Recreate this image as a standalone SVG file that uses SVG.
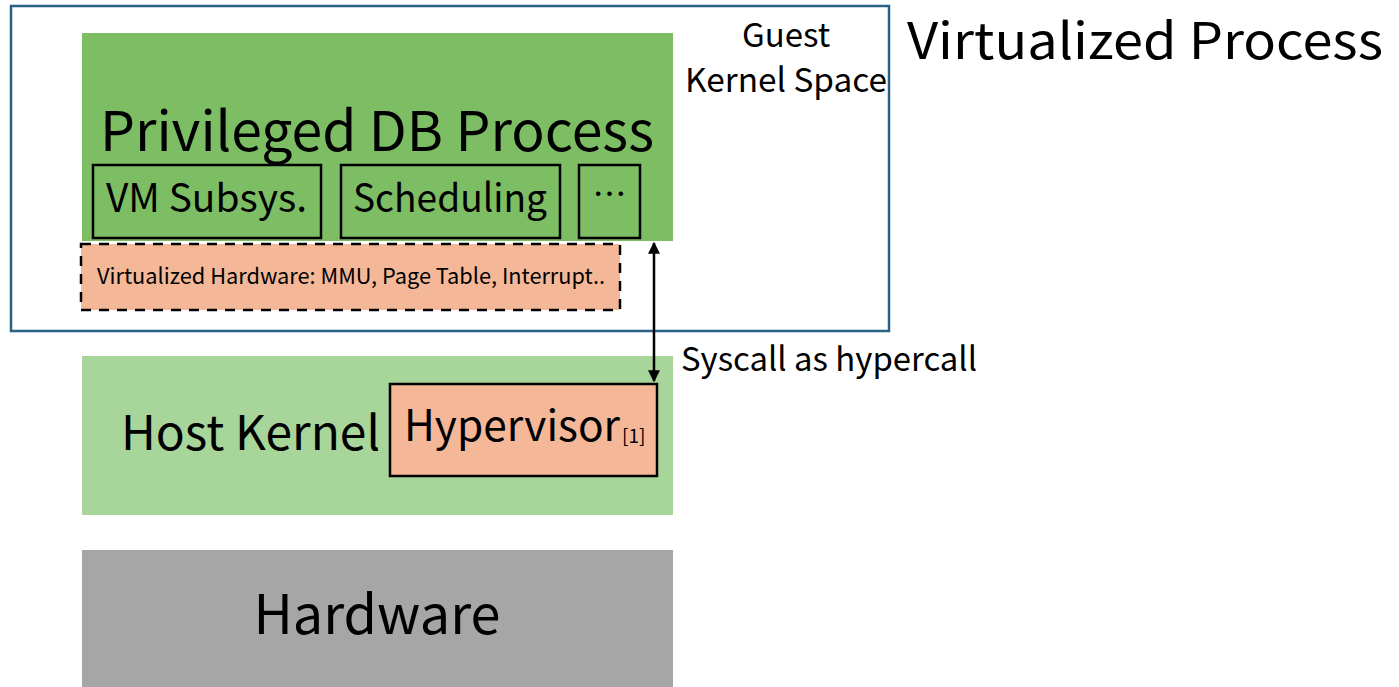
<svg xmlns="http://www.w3.org/2000/svg" width="1399" height="687" viewBox="0 0 1399 687">
<defs>
<marker id="ah" viewBox="0 0 10 10" refX="9" refY="5" markerWidth="14" markerHeight="12" markerUnits="userSpaceOnUse" orient="auto-start-reverse">
<path d="M0,0 L10,5 L0,10 z" fill="#000"/>
</marker>
<style>
text{font-family:"Noto Sans CJK KR","Noto Sans",sans-serif;fill:#000}
.sub{fill:none;stroke:#000;stroke-width:2.5}
</style>
</defs>
<rect width="1399" height="687" fill="#fff"/>
<g id="virtualized-process">
<rect x="11" y="6" width="878" height="325" fill="none" stroke="#2a6286" stroke-width="2.5"/>
<text x="907" y="59" font-size="50" textLength="476" lengthAdjust="spacingAndGlyphs">Virtualized Process</text>
<text x="786" y="47" font-size="33" text-anchor="middle">Guest</text>
<text x="786" y="92" font-size="33" text-anchor="middle" textLength="202" lengthAdjust="spacingAndGlyphs">Kernel Space</text>
</g>
<g id="privileged-db">
<rect x="82" y="33" width="591" height="208" fill="#7dbe65"/>
<text x="100" y="151" font-size="55" textLength="554" lengthAdjust="spacingAndGlyphs">Privileged DB Process</text>
</g>
<g id="vm-subsys">
<rect class="sub" x="93" y="165" width="228" height="73"/>
<text x="106" y="212" font-size="39" textLength="201" lengthAdjust="spacingAndGlyphs">VM Subsys.</text>
</g>
<g id="scheduling">
<rect class="sub" x="341" y="165" width="219" height="73"/>
<text x="353" y="212" font-size="39" textLength="194" lengthAdjust="spacingAndGlyphs">Scheduling</text>
</g>
<g id="etc">
<rect class="sub" x="579" y="165" width="61" height="73"/>
<text x="609.5" y="207" font-size="34" text-anchor="middle">…</text>
</g>
<g id="virt-hw">
<rect x="81" y="244" width="539" height="66" fill="#f4b899" stroke="#000" stroke-width="2.5" stroke-dasharray="10,8"/>
<text x="97" y="284" font-size="22" textLength="508" lengthAdjust="spacingAndGlyphs">Virtualized Hardware: MMU, Page Table, Interrupt..</text>
</g>
<g id="host-kernel">
<rect x="82" y="356" width="591" height="159" fill="#a8d59a"/>
<text x="121" y="450" font-size="48" textLength="259" lengthAdjust="spacingAndGlyphs">Host Kernel</text>
</g>
<g id="hypervisor">
<rect x="390" y="384" width="267" height="92" fill="#f4b899" stroke="#000" stroke-width="2.5"/>
<text x="404" y="441" font-size="43" textLength="216" lengthAdjust="spacingAndGlyphs">Hypervisor</text>
<text x="622" y="443" font-size="19">[1]</text>
</g>
<g id="hardware">
<rect x="82" y="550" width="591" height="137" fill="#a6a6a6"/>
<text x="377" y="634" font-size="54" text-anchor="middle">Hardware</text>
</g>
<g id="connectors">
<line x1="654" y1="243" x2="654" y2="381" stroke="#000" stroke-width="2.5" marker-start="url(#ah)" marker-end="url(#ah)"/>
<text x="681" y="371" font-size="33" textLength="296" lengthAdjust="spacingAndGlyphs">Syscall as hypercall</text>
</g>
</svg>
